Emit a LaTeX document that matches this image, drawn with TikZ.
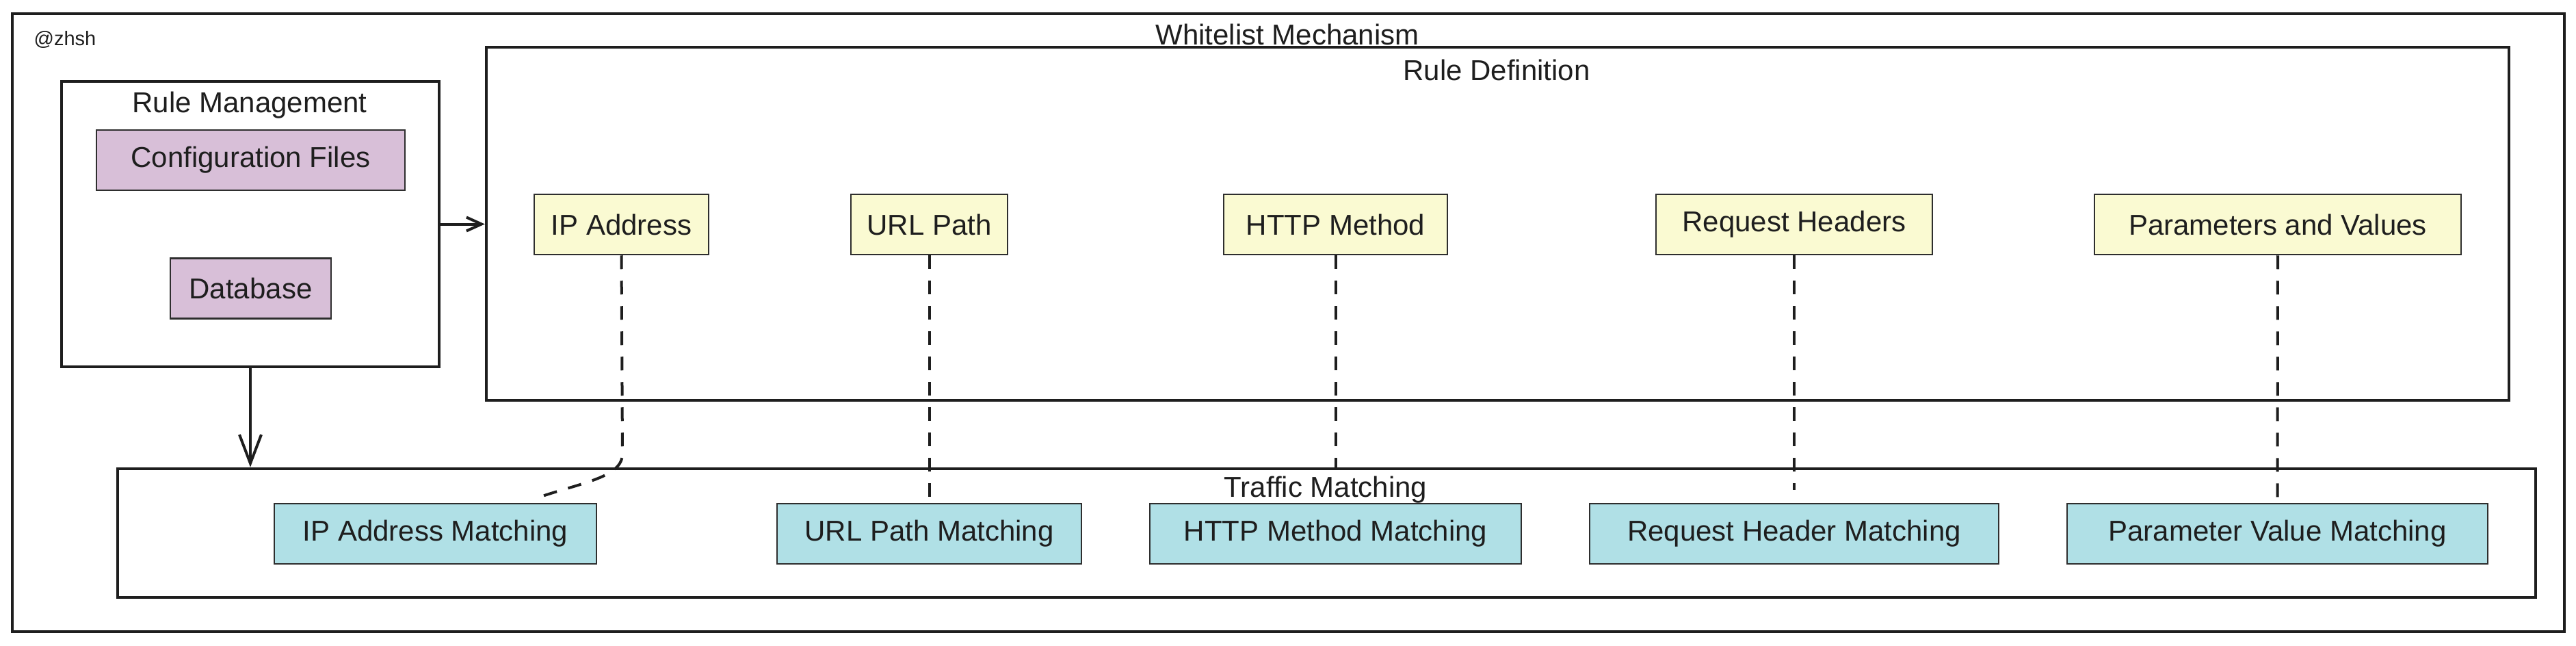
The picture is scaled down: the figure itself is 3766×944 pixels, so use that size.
\documentclass[tikz,border=0pt]{standalone}
\usepackage{fontspec}
\setmainfont{Liberation Sans}
\usetikzlibrary{arrows.meta}
\definecolor{ink}{HTML}{1E1E1E}
\definecolor{boxline}{HTML}{2E2E2E}
\definecolor{purplefill}{HTML}{D8BFD8}
\definecolor{yellowfill}{HTML}{FAFAD2}
\definecolor{bluefill}{HTML}{B0E0E6}
\tikzset{
  container/.style={draw=ink, line width=4.5pt, inner sep=0pt},
  item/.style={draw=boxline, line width=2.5pt, minimum height=88pt, inner sep=0pt, text=ink, font=\fontsize{42}{50}\selectfont},
  cfgbox/.style={item, fill=purplefill},
  rulebox/.style={item, fill=yellowfill},
  matchbox/.style={item, fill=bluefill},
  titletext/.style={text=ink, font=\fontsize{42}{50}\selectfont, inner sep=0pt},
  link/.style={draw=ink, line width=4pt, dash pattern=on 20pt off 17pt},
  flow/.style={draw=ink, line width=4pt},
}
\begin{document}
\begin{tikzpicture}[x=1pt,y=-1pt]
\fill[white] (0,0) rectangle (3766,944);
\useasboundingbox (0,0) rectangle (3766,944);
% containers
\node[container, minimum width=3731pt, minimum height=903pt] (outer) at (1883.5,471.5) {};
\node[container, minimum width=552pt, minimum height=417pt] (rm) at (366,327.5) {};
\node[container, minimum width=2957pt, minimum height=516pt] (rd) at (2189.5,327) {};
\node[container, minimum width=3535pt, minimum height=188pt] (tm) at (1939.5,779) {};
% titles
\node[titletext] (wmt) at (1882,50) {Whitelist Mechanism};
\node[text=ink, font=\fontsize{29}{34}\selectfont, inner sep=0pt] (tag) at (95,58) {@zhsh};
\node[titletext] (rmt) at (365,154) {Rule Management};
\node[titletext] (rdt) at (2188,102) {Rule Definition};
\node[titletext] (tmt) at (1938,716) {Traffic Matching};
% rule management items
\node[cfgbox, minimum width=451pt] (cfg) at (366.5,234) {Configuration Files};
\node[cfgbox, minimum width=235pt] (db) at (366.5,421.5) {Database};
% rule definition items
\node[rulebox, minimum width=255pt] (ipa) at (908.5,328) {IP Address};
\node[rulebox, minimum width=229pt] (url) at (1358.5,328) {URL Path};
\node[rulebox, minimum width=327pt] (http) at (1952.5,328) {HTTP Method};
\node[rulebox, minimum width=404pt] (reqh) at (2623,328) {Request Headers};
\node[rulebox, minimum width=536pt] (par) at (3330,328) {Parameters and Values};
% traffic matching items
\node[matchbox, minimum width=471pt] (ipm) at (636.5,780) {IP Address Matching};
\node[matchbox, minimum width=445pt] (urlm) at (1358.5,780) {URL Path Matching};
\node[matchbox, minimum width=543pt] (httpm) at (1952.5,780) {HTTP Method Matching};
\node[matchbox, minimum width=598pt] (reqm) at (2623,780) {Request Header Matching};
\node[matchbox, minimum width=615pt] (parm) at (3329.5,780) {Parameter Value Matching};
% arrows
\draw[flow, -{Straight Barb[length=22pt,width=20pt]}] (rm.east) -- (rm.east -| rd.west);
\draw[flow, -{Straight Barb[length=42pt,width=32pt]}] (rm.south) -- (rm.south |- tm.north);
% dashed links
\coordinate (ipbend) at (910,662);
\coordinate (ipend) at (784,728);
\coordinate (rhend) at (2623,716);
\draw[link] (ipa.south) -- (ipbend) .. controls (911,698) and (850,705) .. (ipend);
\draw[link] (url.south) -- (urlm.north);
\draw[link] (http.south) -- (http.south |- tm.north);
\draw[link] (reqh.south) -- (rhend);
\draw[link] (par.south) -- (parm.north);
\end{tikzpicture}
\end{document}
